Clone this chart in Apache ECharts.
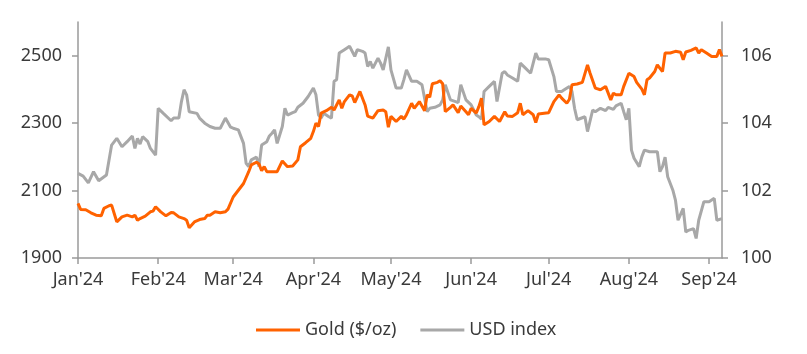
<!DOCTYPE html>
<html>
<head>
<meta charset="utf-8">
<script src="https://cdn.jsdelivr.net/npm/echarts@6/dist/echarts.min.js"></script>
<style>
  html, body { margin: 0; padding: 0; background: #fff; }
  #chart { width: 807px; height: 354px; }
</style>
</head>
<body>
<div id="chart"></div>
<script>
const year = 2024
const monthLabels = ["Jan'24", "Feb'24", "Mar'24", "Apr'24", "May'24", "Jun'24", "Jul'24", "Aug'24", "Sep'24"]
const goldTicks = [1900, 2100, 2300, 2500]
const usdTicks = [100, 102, 104, 106]

const goldDates = ['1-1','1-2','1-4','1-6','1-8','1-10','1-11','1-13','1-14','1-15','1-16','1-18','1-20','1-22','1-23','1-24','1-25','1-27','1-29','1-30','1-31',
  '2-2','2-4','2-6','2-7','2-9','2-11','2-12','2-13','2-15','2-17','2-19','2-20','2-21','2-23','2-25','2-27','2-28',
  '3-1','3-3','3-5','3-7','3-8','3-10','3-11','3-12','3-13','3-14','3-16','3-18','3-20','3-22','3-24','3-26','3-27','3-29','3-31',
  '4-1','4-2','4-3','4-4','4-6','4-8','4-9','4-11','4-12','4-13','4-15','4-16','4-17','4-19','4-21','4-22','4-24','4-26','4-28','4-29','4-30',
  '5-1','5-3','5-5','5-6','5-7','5-9','5-10','5-12','5-14','5-15','5-16','5-17','5-19','5-20','5-21','5-22','5-24','5-25','5-27','5-28','5-30','5-31',
  '6-1','6-3','6-4','6-5','6-6','6-8','6-10','6-12','6-14','6-15','6-17','6-19','6-20','6-21','6-23','6-25','6-26','6-27','6-30',
  '7-1','7-3','7-5','7-6','7-8','7-9','7-10','7-12','7-14','7-16','7-17','7-19','7-21','7-23','7-25','7-26','7-27','7-29','7-30',
  '8-1','8-3','8-4','8-6','8-7','8-8','8-9','8-11','8-12','8-14','8-15','8-17','8-19','8-21','8-22','8-23','8-25','8-27','8-28','8-29','8-31',
  '9-2','9-4','9-5','9-6']
const goldValues = [2062,2044,2043,2034,2027,2025,2047,2055,2057,2032,2007,2022,2027,2022,2027,2012,2017,2024,2037,2039,2052,
  2037,2025,2035,2034,2022,2017,2012,1990,2007,2014,2017,2027,2027,2037,2034,2037,2045,
  2081,2101,2121,2156,2176,2184,2179,2159,2171,2156,2156,2156,2188,2171,2173,2191,2230,2242,2255,
  2275,2300,2290,2330,2337,2347,2339,2369,2344,2364,2384,2381,2361,2394,2354,2321,2315,2337,2339,2334,2288,
  2320,2305,2320,2312,2325,2359,2344,2364,2337,2384,2377,2417,2421,2426,2417,2334,2347,2354,2331,2351,2334,2325,
  2344,2330,2349,2374,2295,2305,2320,2305,2334,2321,2320,2331,2359,2325,2337,2325,2302,2327,2330,
  2331,2364,2384,2374,2359,2371,2414,2416,2421,2473,2448,2404,2399,2409,2369,2389,2384,2384,2409,
  2448,2438,2421,2401,2384,2429,2434,2453,2473,2453,2508,2508,2513,2510,2488,2511,2516,2523,2508,2518,2508,
  2498,2498,2518,2498]

const usdDates = ['1-1','1-3','1-5','1-7','1-9','1-12','1-14','1-16','1-18','1-20','1-22','1-23','1-24','1-25','1-26','1-28','1-29','1-31',
  '2-1','2-3','2-6','2-7','2-9','2-10','2-11','2-12','2-13','2-16','2-17','2-19','2-21','2-23','2-25','2-27','2-29',
  '3-1','3-3','3-5','3-6','3-7','3-8','3-10','3-11','3-12','3-14','3-15','3-16','3-17','3-18','3-20','3-21','3-22','3-24','3-25','3-26','3-28','3-30',
  '4-1','4-2','4-3','4-4','4-5','4-7','4-8','4-9','4-10','4-11','4-13','4-15','4-17','4-18','4-20','4-21','4-22','4-23','4-24','4-26','4-27','4-28','4-30',
  '5-1','5-3','5-5','5-6','5-7','5-9','5-11','5-13','5-15','5-16','5-18','5-20','5-21','5-22','5-24','5-26','5-27','5-28','5-30',
  '6-1','6-3','6-4','6-5','6-6','6-8','6-10','6-11','6-13','6-14','6-15','6-17','6-19','6-20','6-22','6-24','6-26','6-27','6-30',
  '7-1','7-3','7-4','7-6','7-7','7-9','7-10','7-11','7-12','7-15','7-16','7-18','7-19','7-21','7-23','7-24','7-26','7-27','7-29','7-30','7-31',
  '8-1','8-2','8-3','8-5','8-6','8-7','8-9','8-10','8-12','8-13','8-14','8-15','8-16','8-18','8-19','8-20','8-22','8-23','8-24','8-26','8-27','8-28','8-30',
  '9-1','9-3','9-4','9-6']
const usdValues = [102.51,102.43,102.23,102.56,102.29,102.46,103.35,103.55,103.30,103.45,103.62,103.25,103.55,103.38,103.60,103.45,103.25,103.05,
  104.44,104.29,104.07,104.15,104.15,104.64,104.99,104.84,104.34,104.29,104.15,104.00,103.90,103.85,103.85,104.15,103.88,
  103.85,103.80,103.40,102.81,102.71,102.91,102.99,102.71,103.35,103.45,103.62,103.70,103.80,103.40,103.90,104.44,104.24,104.31,104.34,104.47,104.59,104.79,
  105.04,104.84,104.24,104.15,104.29,104.19,104.15,105.24,105.29,106.08,106.18,106.28,105.98,106.18,106.13,106.08,105.68,105.83,105.63,105.93,105.78,105.58,106.26,
  105.58,105.04,105.04,105.29,105.58,105.24,105.24,105.14,104.34,104.44,104.47,104.54,104.69,105.14,104.69,104.64,104.61,105.14,104.69,
  104.54,104.24,104.19,104.12,104.94,105.09,105.24,104.64,105.48,105.53,105.43,105.34,105.24,105.78,105.63,105.48,106.08,105.90,105.90,
  105.88,105.38,104.94,104.94,104.99,105.09,104.94,104.44,104.10,104.19,103.75,104.39,104.34,104.44,104.37,104.47,104.41,104.51,104.59,104.34,104.10,
  104.44,103.20,102.96,102.71,103.00,103.20,103.15,103.15,103.15,102.56,102.71,102.99,102.41,102.01,101.72,101.12,101.47,100.77,100.82,100.87,100.58,101.12,101.67,
  101.67,101.77,101.12,101.17]

// dates kept as month-day strings, turned into timestamps for a value axis
const toTime = (md) => {
  const p = md.split('-')
  return new Date(year, +p[0] - 1, +p[1]).getTime()
}
const toPairs = (dates, values) => dates.map((d, i) => [toTime(d), values[i]])
const monthStarts = monthLabels.map((l, i) => new Date(year, i, 1).getTime())

const axisColor = '#9a9a9a'
const textColor = '#3a3a3a'
const font = 'Noto Sans'

const chart = echarts.init(document.getElementById('chart'))
const option = {
  animation: false,
  textStyle: { fontFamily: font },
  grid: { left: 78, right: 85, top: 22, bottom: 96 },
  legend: {
    left: 251,
    top: 316,
    icon: 'rect',
    itemWidth: 44,
    itemHeight: 3,
    itemGap: 24,
    textStyle: { fontFamily: font, fontSize: 18, color: textColor },
    data: ['Gold ($/oz)', 'USD index']
  },
  xAxis: {
    type: 'value',
    min: toTime('1-1'),
    max: toTime('9-6'),
    axisLine: { lineStyle: { color: axisColor, width: 1.5 } },
    axisTick: { show: true, length: 6, lineStyle: { color: axisColor, width: 1.5 }, customValues: monthStarts },
    axisLabel: {
      customValues: monthStarts,
      margin: 13,
      fontFamily: font,
      fontSize: 18,
      color: textColor,
      formatter: (v) => monthLabels[new Date(v).getMonth()]
    },
    splitLine: { show: false }
  },
  yAxis: [{
    type: 'value',
    min: 1900,
    max: 2600,
    axisLine: { show: true, lineStyle: { color: axisColor, width: 1.5 } },
    axisTick: { show: true, length: 6, lineStyle: { color: axisColor, width: 1.5 }, customValues: goldTicks },
    axisLabel: { customValues: goldTicks, margin: 16, fontFamily: font, fontSize: 18, color: textColor, formatter: (v) => String(v) },
    splitLine: { show: false }
  }, {
    type: 'value',
    min: 100,
    max: 107,
    position: 'right',
    axisLine: { show: true, lineStyle: { color: axisColor, width: 1.5 } },
    axisTick: { show: true, length: 6, lineStyle: { color: axisColor, width: 1.5 }, customValues: usdTicks },
    axisLabel: { customValues: usdTicks, margin: 19, fontFamily: font, fontSize: 18, color: textColor, formatter: (v) => String(v) },
    splitLine: { show: false }
  }],
  series: [{
    name: 'Gold ($/oz)',
    type: 'line',
    yAxisIndex: 0,
    z: 3,
    showSymbol: false,
    symbol: 'none',
    color: '#FF6200',
    lineStyle: { width: 3, color: '#FF6200' },
    data: toPairs(goldDates, goldValues)
  }, {
    name: 'USD index',
    type: 'line',
    yAxisIndex: 1,
    z: 2,
    showSymbol: false,
    symbol: 'none',
    color: '#A8A8A8',
    lineStyle: { width: 3, color: '#A8A8A8' },
    data: toPairs(usdDates, usdValues)
  }]
}
chart.setOption(option)
</script>
</body>
</html>
